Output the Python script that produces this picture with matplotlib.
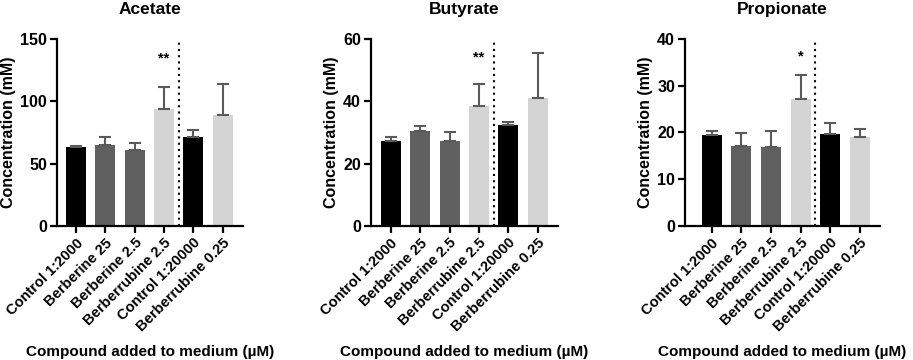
import numpy as np
import matplotlib.pyplot as plt

plt.rcParams['font.family'] = ['Liberation Sans', 'DejaVu Sans']
plt.rcParams['font.weight'] = 'bold'

# Dữ liệu
groups = ['Control 1:2000', 'Berberine 25', 'Berberine 2.5',
          'Berberrubine 2.5', 'Control 1:20000', 'Berberrubine 0.25']
bar_colors = ['#000000', '#606060', '#606060', '#d4d4d4', '#000000', '#d4d4d4']

titles = ['Acetate', 'Butyrate', 'Propionate']
acetate_mean = [63.6, 65.0, 61.2, 93.9, 71.1, 89.0]
acetate_err = [0.6, 6.7, 5.6, 17.9, 5.6, 24.6]
butyrate_mean = [27.3, 30.6, 27.4, 38.6, 32.3, 41.0]
butyrate_err = [1.1, 1.6, 2.6, 6.8, 1.2, 14.6]
propionate_mean = [19.5, 17.1, 17.0, 27.2, 19.7, 19.1]
propionate_err = [0.9, 2.7, 3.4, 5.0, 2.4, 1.6]

means = [acetate_mean, butyrate_mean, propionate_mean]
errs = [acetate_err, butyrate_err, propionate_err]
y_max = [150, 60, 40]
y_step = [50, 20, 10]
stars = ['**', '**', '*']
star_y = [134, 54, 36.2]
star_idx = 3

# Vị trí các trục trong hình
axes_pos = [
    (0.0624, 0.372, 0.204, 0.520),
    (0.406, 0.372, 0.205, 0.520),
    (0.750, 0.372, 0.214, 0.520),
]
x_lims = [(-0.65, 5.7), (-0.68, 5.68), (-0.91, 5.68)]

fig = plt.figure(figsize=(9.13, 3.6), dpi=100)

for k in range(3):
    ax = fig.add_axes(axes_pos[k])
    x = np.arange(len(groups))
    m = np.array(means[k])
    e = np.array(errs[k])
    ax.bar(x, m, width=0.68, color=bar_colors, zorder=2)
    ax.errorbar(x, m, yerr=[np.zeros_like(e), e], fmt='none', ecolor='#5a5a5a',
                elinewidth=1.5, capsize=4.5, capthick=1.5, zorder=3)
    ax.axvline(3.5, color='black', linestyle=(0, (1, 2)), linewidth=1.5, zorder=1)
    ax.text(star_idx, star_y[k], stars[k], ha='center', va='center',
            fontsize=10.5, fontweight='bold')

    ax.set_xlim(x_lims[k])
    ax.set_ylim(0, y_max[k])
    ax.set_yticks(np.arange(0, y_max[k] + 1, y_step[k]))
    ax.set_xticks(x)
    ax.set_xticklabels(groups, rotation=45, ha='right', rotation_mode='anchor',
                       fontsize=10.5, fontweight='bold')
    for lab in ax.get_yticklabels():
        lab.set_fontsize(11.5)
        lab.set_fontweight('bold')

    ax.spines['top'].set_visible(False)
    ax.spines['right'].set_visible(False)
    ax.spines['left'].set_linewidth(1.6)
    ax.spines['bottom'].set_linewidth(1.6)
    ax.tick_params(axis='both', width=1.6, length=5, pad=2)

    ax.set_title(titles[k], fontsize=12.5, fontweight='bold', pad=18)
    ax.set_ylabel('Concentration (mM)', fontsize=11.5, fontweight='bold',
                  labelpad=3)
    ax.set_xlabel('Compound added to medium (µM)', fontsize=11,
                  fontweight='bold', labelpad=8)

plt.savefig('out.png', dpi=100)
